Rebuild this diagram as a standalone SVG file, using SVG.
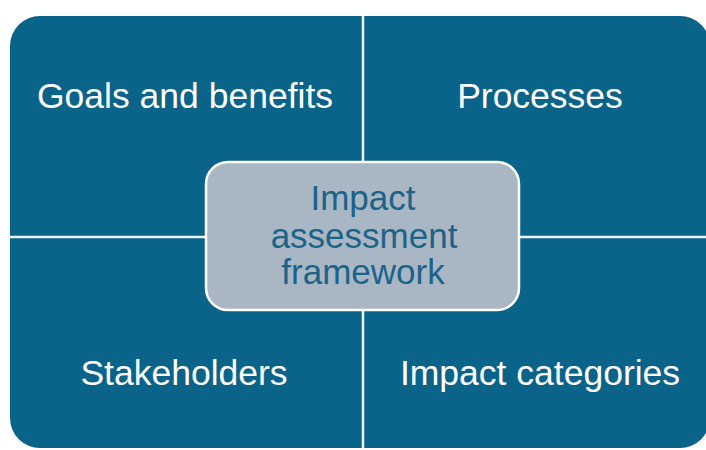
<svg xmlns="http://www.w3.org/2000/svg" width="706" height="450" viewBox="0 0 706 450">
<style>
.q{fill:#0a6389}
.lbl{font-family:"Liberation Sans",Arial,sans-serif;font-size:35.5px;fill:#ffffff;text-anchor:middle}
.ctr{font-family:"Liberation Sans",Arial,sans-serif;font-size:35px;fill:#1b6388;text-anchor:middle}
.sep{stroke:#e6f4f8;stroke-width:2.5;fill:none}
</style>
<rect width="706" height="450" fill="#ffffff"/>
<rect class="q" x="10" y="16" width="700" height="432" rx="30" ry="30"/>
<g id="connectors">
<line class="sep" x1="363" y1="16" x2="363" y2="448"/>
<line class="sep" x1="10" y1="237" x2="710" y2="237"/>
</g>
<g id="goals"><text class="lbl" x="185" y="108">Goals and benefits</text></g>
<g id="processes"><text class="lbl" x="540" y="108">Processes</text></g>
<g id="stakeholders"><text class="lbl" x="184" y="385">Stakeholders</text></g>
<g id="impact-categories"><text class="lbl" x="540" y="385">Impact categories</text></g>
<g id="framework">
<rect x="206" y="162" width="313" height="148" rx="22" ry="22" fill="#a9b7c5" stroke="#ffffff" stroke-width="2.5"/>
<text class="ctr" x="363" y="210">Impact</text>
<text class="ctr" x="364" y="248">assessment</text>
<text class="ctr" x="363" y="284">framework</text>
</g>
</svg>
